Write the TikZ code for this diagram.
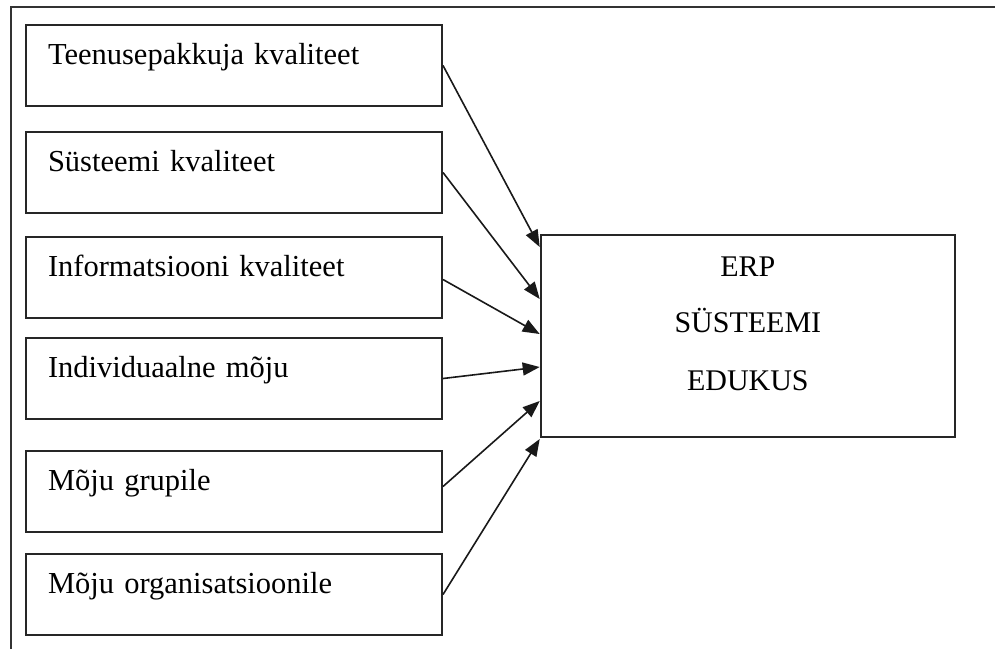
\documentclass[tikz,border=0pt]{standalone}
\usepackage{fontspec}
\setmainfont{Liberation Serif}
\usetikzlibrary{arrows.meta,calc}
\tikzset{
  frameline/.style={line width=2pt, draw=black!80},
  leftbox/.style={draw=black!85, line width=2pt, rectangle, anchor=north west,
    minimum width=416pt, text width=372pt, align=left, inner xsep=22pt, inner ysep=0pt,
    text height=39pt, text depth=42pt, font=\fontsize{30.5}{36}\selectfont},
  bigbox/.style={draw=black!85, line width=2pt, rectangle, minimum width=414.3pt, minimum height=202pt, inner sep=0pt},
  bigtext/.style={anchor=base, inner sep=0pt, font=\fontsize{30}{36}\selectfont},
  conn/.style={draw=black!90, line width=1.6pt, -{Triangle[length=17pt,width=13pt]}}
}
\begin{document}
\begin{tikzpicture}[x=1pt,y=-1pt]
\useasboundingbox (0,0) rectangle (995,649);
\draw[frameline] (10.5,649) -- (10.5,6.5) -- (995,6.5);

\node[leftbox] (b1) at (25,24) {Teenusepakkuja kvaliteet};
\node[leftbox] (b2) at (25,131) {Süsteemi kvaliteet};
\node[leftbox] (b3) at (25,236) {Informatsiooni kvaliteet};
\node[leftbox] (b4) at (25,337) {Individuaalne mõju};
\node[leftbox] (b5) at (25,450) {Mõju grupile};
\node[leftbox] (b6) at (25,553) {Mõju organisatsioonile};

\node[bigbox] (erp) at (747.85,336) {};
\node[bigtext] (t1) at ($(erp.north)+(0,42)$) {ERP};
\node[bigtext] (t2) at ($(erp.north)+(0,98)$) {SÜSTEEMI};
\node[bigtext] (t3) at ($(erp.north)+(0,156)$) {EDUKUS};

\coordinate (e1) at ($(erp.north west)+(0,13)$);
\coordinate (e2) at ($(erp.north west)+(0,65)$);
\coordinate (e3) at ($(erp.north west)+(0,100)$);
\coordinate (e4) at ($(erp.north west)+(0,133)$);
\coordinate (e5) at ($(erp.north west)+(0,167)$);
\coordinate (e6) at ($(erp.north west)+(0,205)$);

\draw[conn] (b1.east) -- (e1);
\draw[conn] (b2.east) -- (e2);
\draw[conn] ($(b3.east)+(0,2)$) -- (e3);
\draw[conn] (b4.east) -- (e4);
\draw[conn] ($(b5.east)+(0,-5)$) -- (e5);
\draw[conn] (b6.east) -- (e6);
\end{tikzpicture}
\end{document}
